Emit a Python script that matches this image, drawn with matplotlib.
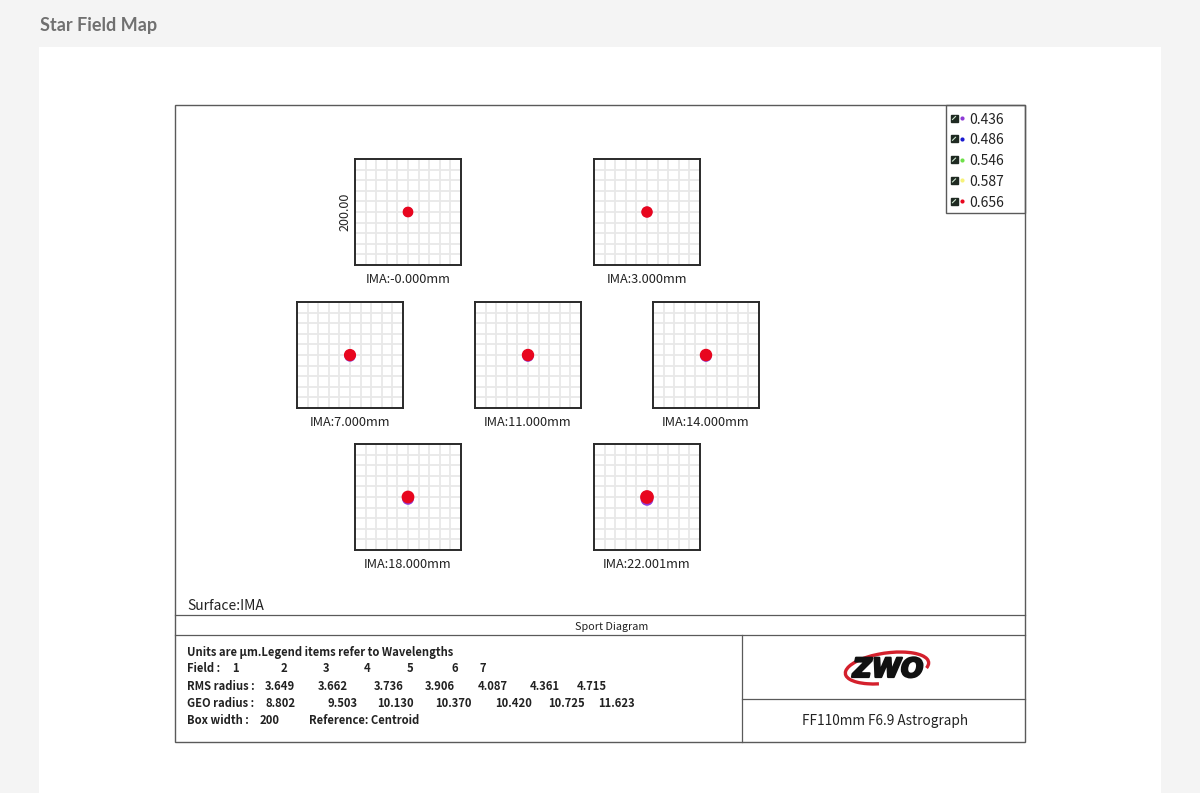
import matplotlib.pyplot as plt
import matplotlib.patheffects as pe
from matplotlib.patches import Rectangle, Circle, Arc

plt.rcParams['font.family'] = ['Noto Sans CJK SC', 'DejaVu Sans']

# data
field_labels = ['IMA:-0.000mm', 'IMA:3.000mm', 'IMA:7.000mm', 'IMA:11.000mm',
                'IMA:14.000mm', 'IMA:18.000mm', 'IMA:22.001mm']
fields = ['1', '2', '3', '4', '5', '6', '7']
rms_radius = ['3.649', '3.662', '3.736', '3.906', '4.087', '4.361', '4.715']
geo_radius = [8.802, 9.503, 10.130, 10.370, 10.420, 10.725, 11.623]
# lateral colour shift of the blue/violet spot, in um
blue_shift = [0.0, 0.0, -2.0, -2.0, -2.0, -3.5, -4.5]
wavelengths = ['0.436', '0.486', '0.546', '0.587', '0.656']
wl_colors = ['#8e3bd6', '#1a1ad0', '#6ee04a', '#f6f27a', '#e8061e']
box_width = 200

# page layout (pixels)
box_centers = [(408, 212), (647, 212), (350, 355), (528, 355),
               (706, 355), (408, 497), (647, 497)]
box_px = 106
W, H = 1200, 793
dy = 1.5  # text baseline nudge

fig = plt.figure(figsize=(12, 7.93), dpi=100, facecolor='#f4f4f4')
ax0 = fig.add_axes([0, 0, 1, 1])
ax0.set_xlim(0, W)
ax0.set_ylim(H, 0)
ax0.axis('off')

ax0.add_patch(Rectangle((39, 47), 1122, 760, facecolor='white', edgecolor='none'))
ax0.text(40, 25, 'Star Field Map', fontsize=13, fontweight='bold', color='#707070',
         family=['Lato', 'DejaVu Sans'], va='center', ha='left')

frame = '#5a5a5a'
ax0.add_patch(Rectangle((175, 105), 850, 637, facecolor='none', edgecolor=frame, lw=1.0))
ax0.plot([175, 1025], [615, 615], color=frame, lw=0.9)
ax0.plot([175, 1025], [635, 635], color=frame, lw=0.9)
ax0.plot([742, 742], [635, 742], color=frame, lw=0.9)
ax0.plot([742, 1025], [699, 699], color=frame, lw=0.9)

# legend
ax0.add_patch(Rectangle((946, 105), 79, 108, facecolor='none', edgecolor=frame, lw=1.0))
for i, (wl, c) in enumerate(zip(wavelengths, wl_colors)):
    y = 118 + i * 20.8
    ax0.add_patch(Rectangle((950.5, y - 3.5), 7, 7, facecolor='#1f2a22', edgecolor='#1f2a22'))
    ax0.plot([952.5, 955.5], [y + 1.5, y - 1.5], color='#cfe8d0', lw=0.8)
    ax0.plot(962, y, 'o', ms=3.0, color=c, mec='none')
    ax0.text(969, y + dy, wl, fontsize=10, color='#222222', va='center', ha='left')

# bottom text
tc = '#222222'
fs = 8.1
ax0.text(187, 604 + dy, 'Surface:IMA', fontsize=10, color=tc, va='center', fontweight='medium')
ax0.text(612, 625 + dy, 'Sport Diagram', fontsize=7.8, color=tc, va='center', ha='center')
ax0.text(187, 651 + dy, 'Units are µm.Legend items refer to Wavelengths', fontsize=fs,
         color=tc, va='center', fontweight='bold')
ax0.text(187, 667 + dy, 'Field :', fontsize=fs, color=tc, va='center', fontweight='bold')
for f, x in zip(fields, [232, 281, 323, 364, 407, 452, 479]):
    ax0.text(x, 667 + dy, f, fontsize=fs, color=tc, va='center', fontweight='bold')
ax0.text(187, 685 + dy, 'RMS radius :', fontsize=fs, color=tc, va='center', fontweight='bold')
for r, x in zip(rms_radius, [265, 318, 374, 425, 478, 530, 577]):
    ax0.text(x, 685 + dy, r, fontsize=fs, color=tc, va='center', fontweight='bold')
ax0.text(187, 702 + dy, 'GEO radius :', fontsize=fs, color=tc, va='center', fontweight='bold')
for g, x in zip(geo_radius, [265, 327, 377, 435, 495, 548, 598]):
    ax0.text(x, 702 + dy, '%.3f' % g, fontsize=fs, color=tc, va='center', fontweight='bold')
ax0.text(187, 719 + dy, 'Box width :', fontsize=fs, color=tc, va='center', fontweight='bold')
ax0.text(260, 719 + dy, str(box_width), fontsize=fs, color=tc, va='center', fontweight='bold')
ax0.text(309, 719 + dy, 'Reference: Centroid', fontsize=fs, color=tc, va='center',
         fontweight='bold')

# logo
ax0.add_patch(Arc((887, 668), 84, 30, angle=-8, theta1=125, theta2=8,
                  color='#d4202c', lw=2.4, zorder=2))
ax0.text(888, 670, 'ZWO', fontsize=19, fontweight='heavy', fontstyle='italic',
         color='#111111', ha='center', va='center', zorder=3,
         family=['DejaVu Sans'],
         path_effects=[pe.withStroke(linewidth=1.6, foreground='#111111')])
ax0.text(885, 720 + dy, 'FF110mm F6.9 Astrograph', fontsize=9.8, color=tc,
         ha='center', va='center')

# spot boxes
half = box_width / 2
for k, (cx, cy) in enumerate(box_centers):
    left = (cx - box_px / 2) / W
    bottom = 1 - (cy + box_px / 2) / H
    ax = fig.add_axes([left, bottom, box_px / W, box_px / H])
    ax.set_xlim(-half, half)
    ax.set_ylim(-half, half)
    for v in range(-80, 100, 20):
        ax.axvline(v, color='#e8e8e8', lw=1.3, zorder=0)
        ax.axhline(v, color='#e8e8e8', lw=1.3, zorder=0)
    ax.set_xticks([])
    ax.set_yticks([])
    for s in ax.spines.values():
        s.set_color('#2a2a2a')
        s.set_linewidth(1.4)
    r = geo_radius[k]
    ax.add_patch(Circle((0, blue_shift[k]), r * 0.92, color=wl_colors[0], zorder=2))
    ax.add_patch(Circle((0, 0), r, color=wl_colors[4], zorder=3))
    ax0.text(cx, cy + box_px / 2 + 13 + dy, field_labels[k], fontsize=9.2, color=tc,
             ha='center', va='center', fontweight='medium')
    if k == 0:
        ax0.text(cx - box_px / 2 - 10, cy, '%.2f' % box_width, fontsize=9, color=tc,
                 rotation=90, ha='center', va='center', fontweight='medium')

fig.savefig('out.png', dpi=100, facecolor=fig.get_facecolor())
